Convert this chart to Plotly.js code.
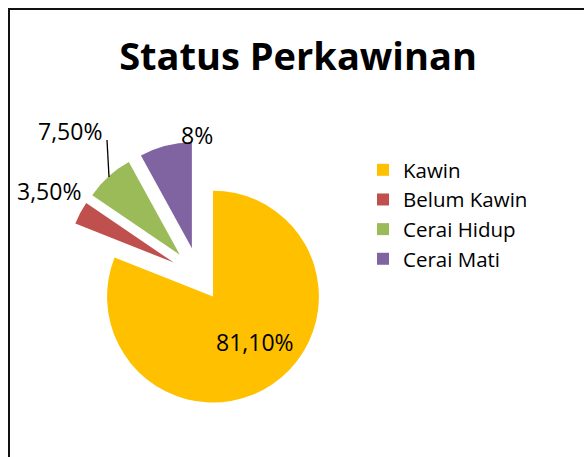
<!DOCTYPE html>
<html>
<head>
<meta charset="utf-8">
<script src="https://cdn.plot.ly/plotly-3.0.1.min.js"></script>
<style>html,body{margin:0;padding:0;background:#fff;}#chart{width:584px;height:457px;}</style>
</head>
<body>
<div id="chart"></div>
<script>
const categories = ['Kawin', 'Belum Kawin', 'Cerai Hidup', 'Cerai Mati'];
const values = [81.1, 3.5, 7.5, 8];
const dataLabels = ['81,10%', '3,50%', '7,50%', '8%'];
const colors = ['#FFC000', '#C0504D', '#9BBB59', '#8064A2'];
const pulls = [0.235, 0.27, 0.27, 0.27];

const W = 584, H = 457;
const px = x => x / W;
const py = y => 1 - y / H;

// label positions (pixels) for each category's data label
const labelPos = [[255, 342], [49, 191], [70, 131], [197, 135]];

const trace = {
  type: 'pie',
  labels: categories,
  values: values,
  sort: false,
  direction: 'clockwise',
  rotation: 0,
  pull: pulls,
  marker: {colors: colors, line: {width: 0}},
  textinfo: 'none',
  hoverinfo: 'none',
  domain: {x: [px(49), px(349)], y: [1 - (276 + 134.5) / H, 1 - (276 - 134.5) / H]},
  showlegend: true
};

const annotations = categories.map((c, i) => ({
  text: dataLabels[i],
  x: px(labelPos[i][0]), y: py(labelPos[i][1]),
  xref: 'paper', yref: 'paper',
  xanchor: 'center', yanchor: 'middle',
  showarrow: false,
  font: {family: 'Open Sans', size: 23, color: '#000'}
}));

const layout = {
  width: W, height: H,
  margin: {l: 0, r: 0, t: 0, b: 0},
  paper_bgcolor: '#fff',
  plot_bgcolor: '#fff',
  title: {
    text: '<b>Status Perkawinan</b>',
    x: px(298), xanchor: 'center', xref: 'paper',
    y: 1 - 57 / H, yanchor: 'middle', yref: 'container',
    font: {family: 'Open Sans', size: 38, color: '#000'}
  },
  legend: {
    x: px(363), y: py(150), xanchor: 'left', yanchor: 'top',
    font: {family: 'Open Sans', size: 20.5, color: '#000'},
    bgcolor: 'rgba(0,0,0,0)',
    itemclick: false
  },
  annotations: annotations,
  shapes: [
    {type: 'rect', xref: 'paper', yref: 'paper', x0: px(9), x1: 1.1, y0: -0.1, y1: py(9),
     line: {color: '#111', width: 2}, fillcolor: 'rgba(0,0,0,0)'},
    {type: 'line', xref: 'paper', yref: 'paper', x0: px(107), y0: py(140), x1: px(109), y1: py(177),
     line: {color: '#000', width: 1.3}}
  ]
};

Plotly.newPlot('chart', [trace], layout, {displayModeBar: false, staticPlot: true});
</script>
</body>
</html>
